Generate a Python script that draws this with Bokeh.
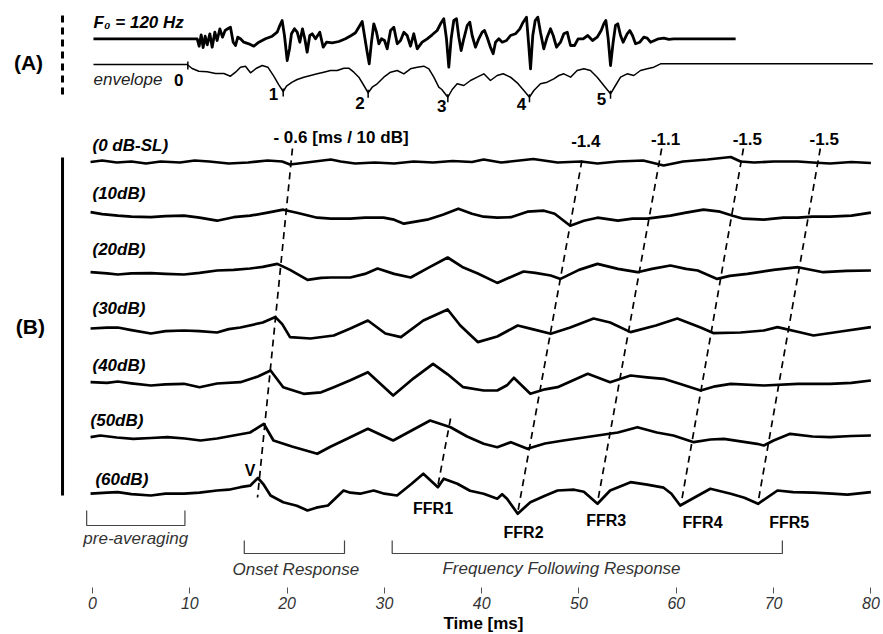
from bokeh.plotting import figure
from bokeh.models import Range1d, FixedTicker, Title, ColumnDataSource
from bokeh.core.properties import value
from bokeh.embed import file_html
from bokeh.resources import INLINE

FONT = "Liberation Sans"

# ---------------- data ----------------
TICKS = [0, 10, 20, 30, 40, 50, 60, 70, 80]
LEVEL_LABELS = ["(0 dB-SL)", "(10dB)", "(20dB)", "(30dB)", "(40dB)", "(50dB)", "(60dB)"]

# stimulus (F0 = 120 Hz) waveform: (time ms, amplitude a.u.)
STIM_F0 = [(0.1, 0), (10.76, 0), (10.96, -7.4), (11.17, 4), (11.37, -8.7), (11.58, 2.6), (11.79, -6),
           (12.06, 5), (12.3, -8.4), (12.57, 6.6), (12.81, -1.7), (13.09, 10), (13.36, 1.6), (13.63, 8.3),
           (13.9, 10), (14.18, 11.6), (14.46, -3.4), (14.7, -6.7), (14.93, 1.6), (15.21, 0), (15.55, -3.4),
           (16.07, -5), (16.58, -7.4), (17.1, -3.4), (17.78, 0), (18.47, 2.6), (18.98, 6.6), (19.25, 13.3),
           (19.49, 18.3), (19.73, 3.3), (20.01, -21.7), (20.25, -10), (20.45, 5), (20.76, 10), (21.04, 6.6),
           (21.31, -3.4), (21.58, 10), (21.82, 0), (22.06, -13.4), (22.33, 3.3), (22.58, 5), (22.92, 0),
           (23.36, 6.6), (23.71, -8.4), (24.05, -3.4), (24.63, -4), (25.32, -2.7), (26.0, 0), (26.59, 3.3),
           (27.03, 6), (27.37, 11.6), (27.72, 17.3), (27.95, 3.3), (28.23, -13.4), (28.44, -25), (28.67, -3.4),
           (28.91, 15), (29.19, 6.6), (29.43, -5), (29.7, 0), (30.01, -1.7), (30.29, -10), (30.63, 8.3),
           (30.97, 11.6), (31.32, -5), (31.66, -1.7), (32.0, 6.6), (32.34, 3.3), (32.68, -7.4), (33.02, 5),
           (33.37, -10), (33.88, -3.4), (34.4, 0), (34.91, 4), (35.42, 8.3), (35.77, 15), (36.1, 20),
           (36.38, 0), (36.62, -28.4), (36.86, 0), (37.13, 18.3), (37.41, 20), (37.65, 1.6), (37.89, -11.7),
           (38.16, 0), (38.51, 13.3), (38.78, 16.6), (39.02, 3.3), (39.36, -8.4), (39.7, 0), (40.05, 6.6),
           (40.29, 8.3), (40.56, 1.6), (40.9, -8.4), (41.18, -15), (41.42, -3.4), (41.76, 0), (42.11, -3.4),
           (42.55, -1.7), (42.96, 3.3), (43.47, 5), (43.92, 10), (44.26, 16.6), (44.6, 21.6), (44.81, -3.4),
           (45.02, -30), (45.25, 3.3), (45.5, 18.3), (45.77, 21.6), (46.04, 6.6), (46.38, -10), (46.73, 1.6),
           (47.07, 10), (47.35, 3.3), (47.69, -8.4), (48.1, -3.4), (48.44, 5), (48.79, 6.6), (49.13, -6.7),
           (49.54, -6.7), (49.91, 0), (50.43, 0), (50.9, 3.3), (51.39, -1.7), (51.87, 1.6), (52.28, 8.3),
           (52.55, 15), (52.76, 18.3), (53.0, 0), (53.24, -26.7), (53.51, -3.4), (53.75, 13.3), (53.99, 15),
           (54.27, 3.3), (54.54, -3.4), (54.95, 5), (55.22, 8.3), (55.5, 3.3), (55.81, -5), (56.25, -3.4),
           (56.66, 1.6), (57.01, 0.6), (57.35, -3.4), (57.76, -1.7), (58.17, 0), (58.72, 0.6), (59.23, -0.6),
           (59.74, 0), (66.1, 0)]

# stimulus envelope
STIM_ENV = [(0.1, 0), (9.73, 0), (10.24, -4), (10.93, -6.7), (11.79, -7.3), (12.64, -9), (13.5, -9),
            (14.18, -11.7), (14.7, -7.7), (15.21, -2.7), (15.72, -1.7), (16.24, -8.3), (16.86, -3.7),
            (17.44, -1), (18.02, -2.7), (18.63, -11.7), (19.15, -20.3), (19.6, -27), (19.94, -21.7),
            (20.52, -17.7), (21.04, -15), (21.72, -12.7), (22.41, -11), (23.09, -9.3), (23.77, -7.7),
            (24.46, -6), (25.15, -6), (25.83, -3.7), (26.34, -3.7), (26.86, -7.7), (27.37, -12.7),
            (27.89, -21), (28.33, -28.3), (28.75, -22.7), (29.26, -19.3), (29.94, -12.7), (30.63, -7.7),
            (31.32, -6), (32.0, -9.3), (32.68, -4.3), (33.37, -2.7), (34.05, -1.7), (34.57, -4.3),
            (35.08, -12.7), (35.59, -22.7), (35.9, -25), (36.52, -32.7), (36.97, -25), (37.48, -19.3),
            (38.16, -21), (38.85, -16), (39.54, -12.7), (40.22, -9.3), (40.9, -16), (41.59, -11),
            (42.21, -9.3), (42.96, -12.7), (43.65, -18.3), (44.33, -26), (44.91, -32.7), (45.36, -26),
            (46.04, -19.3), (46.73, -17.7), (47.41, -14.3), (47.93, -11), (48.44, -9.3), (49.13, -12.7),
            (49.81, -6), (50.5, -4.3), (51.18, -6), (51.87, -12.7), (52.55, -21), (53.24, -29.3),
            (53.75, -21), (54.27, -12.7), (54.95, -9.3), (55.63, -11), (56.32, -6), (57.01, -4.3),
            (57.69, -2.7), (58.38, 0.7), (80.2, 0.7)]

ENV_MARK_NAMES = ["0", "1", "2", "3", "4", "5"]
ENV_MARK_T = [9.8, 19.6, 28.33, 36.52, 44.91, 53.24]
ENV_MARK_A = [0, -27, -28.3, -32.7, -32.7, -29.3]
ENV_LABEL_T = [8.85, 18.6, 27.5, 35.9, 44.1, 52.3]

# averaged responses, one per level (time ms, amplitude a.u.)
TRACE_0DB = [(-0.2, 0.5), (1.0, 2), (2.5, 0), (4, 1), (5.5, -1), (7, 1), (9, 0), (10.5, 2), (12, 1),
             (14, -1), (16, 0), (18, 2), (19.5, 1), (20.3, -2), (22, 0), (24.5, 3), (25.5, 1), (27, -1),
             (29, 0), (31, -1), (33, 1), (35, 0), (37, 1.5), (39, 0.5), (40.2, 3), (42, 0), (45.3, 3.5),
             (47.8, 0), (50.2, 1), (51.9, -1), (54, 1), (56.6, 2), (58.7, -3), (60.7, 1), (63.2, 3),
             (65.6, 5.5), (66.6, 1), (68, 0), (70, 1), (72.5, 1), (74, 0), (75.8, -1), (78, 0.5), (80, -0.5)]
TRACE_10DB = [(-0.2, 5.5), (1, 3.5), (2.6, 2), (4, 1), (6, 0.5), (7.5, 1.5), (9.4, 2), (11, 0), (12.8, -3),
              (14.5, 0.5), (16.2, 2), (18, 5), (19.6, 8), (21, 5), (23.1, 0), (24.5, -1), (26.5, -1),
              (28, 0), (29.9, 0), (31, -2), (32, -6), (33.2, -4), (34.4, -2), (36, 3), (37.6, 9), (39, 4),
              (40.2, 1), (41.6, 0), (43, 0.5), (44.7, 6), (46.4, 7), (47.5, 4), (49.1, -8), (50.5, -3),
              (51.9, 0), (54, -3), (55.5, -1), (57, -1), (59.4, 2), (61, 5), (62.8, 8), (64.5, 6),
              (65.8, 2), (66.9, -1), (69, -2), (71, 0), (72.5, 0), (74, 1), (75.8, 1), (78, 2), (80, 5)]
TRACE_20DB = [(-0.2, 0.7), (1.5, -0.5), (2.6, -1.6), (4, -0.5), (6, -0.3), (7.5, -1), (9.4, -1.6),
              (11, 0), (12.8, 2.4), (14.5, 3), (16.2, 4.4), (17.5, 6), (19.0, 9), (20.3, 3), (22.1, -7),
              (23.5, -5), (24.5, -4.6), (26.5, -4.6), (28, -1), (29.3, 4.4), (31, -1), (32.7, -4.6),
              (34.5, 5), (36.5, 15.4), (38, 6), (39.6, -0.6), (41.6, -10), (43, -4), (44.3, 1.4),
              (45.5, 0), (47.1, -2.6), (48.1, -6), (50, 3), (51.9, 9), (54, 4), (56, 0.7), (57.5, 4),
              (59.4, 7.4), (61, 4), (62.2, 2.4), (64.2, -6), (65.5, -3), (67.3, -1), (70, 3), (72.5, 5.7),
              (75.1, 0.7), (77.5, 2), (80, 2.4)]
TRACE_30DB = [(-0.2, -0.4), (1.5, 0.5), (2.6, 0.6), (4, -2), (6, -5.4), (7.5, -3), (9.4, -2.4),
              (11, -3), (12.8, -4.4), (14, -1), (15.2, 0.6), (17.5, 5.6), (18.8, 11), (19.5, 4),
              (20.3, -9), (22.4, -10.4), (24.8, -7.4), (26.5, -0.4), (28.3, 7.6), (30.1, -5.4), (31.7, -9),
              (34, 7.6), (36.5, 18.6), (37.8, 2.6), (39.6, -14), (41.6, -8.4), (43.7, 2.6), (45.2, -1),
              (47.1, -5.7), (49.1, 0.6), (51.5, 9.6), (53.2, 5.6), (55.3, -4), (57.9, 2.6), (60.1, 9.6),
              (62.5, 0.6), (63.8, -5), (66.6, -4.4), (69, -2.4), (70.4, 1), (72.8, -4.4), (74.1, -7.4),
              (76.9, -3.4), (80, 1)]
TRACE_40DB = [(-0.2, 1.1), (1.5, 0.5), (2.6, 1.8), (4, 0), (6, -2.2), (7.5, -1), (9.4, -0.5),
              (11, -3.9), (12.8, -0.2), (15.2, 1.1), (17, 6.8), (18.3, 12.8), (19.6, -3.9), (21.7, -10.5),
              (23.5, -9), (24.8, -3.9), (26.5, 3), (28.3, 11.1), (30.9, -12.2), (33, 5), (35, 19.5),
              (36.5, 9), (38.1, -3.9), (40.2, -7.2), (41.6, -7.2), (42.6, -2), (43.3, 5.5), (45, -10.5),
              (46.5, -6), (47.8, -3.9), (50.9, 9.5), (53.2, 1.1), (55.3, 7.8), (57, 6), (58.7, 4.5),
              (60.5, -1), (62.5, -7.2), (64, -3), (65.6, -0.5), (69, -2.2), (72.5, -0.5), (75.8, -0.5),
              (78, 0.5), (80, 2.8)]
TRACE_50DB = [(-0.2, 1.3), (0.8, 3), (2.5, 1), (4.2, -0.3), (6, 0.5), (7.7, 1.3), (9.5, 0), (11.1, -2),
              (12.8, 0), (14.5, 3), (16.2, 6), (17.6, 14.7), (18.6, -2), (20.5, -8), (23.1, -15.3),
              (24.5, -8), (25.8, -2), (28.3, 9.7), (30.9, -2), (32.8, 8), (34.7, 18), (36.8, 11.3),
              (38.5, 2), (40.2, -5.3), (41.6, -8.7), (43, -3.7), (44.7, -10.3), (46.5, -5), (48.4, -2),
              (51.9, 3), (54, 6), (56, 11.3), (58, 6), (59.7, 3), (61.8, -3.7), (63.5, -1), (64.9, -0.3),
              (68.3, -5.3), (69, -7), (70, -2), (71.7, 4.7), (74, 2), (75.8, 1.3), (78, 2.5), (80, 3)]
TRACE_60DB = [(-0.2, 0), (1.5, 1), (2.6, 1.5), (4, -0.5), (6, -1.8), (7.5, 0), (9.4, 0), (11, 1),
              (12.8, 3.2), (14, 4), (15.2, 6.5), (16.2, 8), (17.0, 15.7), (17.6, 9), (18.3, -1.8),
              (19.6, -8.5), (21, -12), (22.1, -16.8), (23, -14), (24.2, -11.8), (25.8, 3.2), (26.5, 1),
              (27.5, 0), (28.9, 3.2), (30, 0), (31.3, -1.8), (32.8, 10), (34, 20), (35.5, 6.5), (36.1, 15),
              (37.5, 10), (38.8, 3), (40.2, 0), (41.6, -5), (42.1, -0.5), (42.6, -5), (43.7, -20),
              (45, -8.5), (46.5, -2), (47.8, 3.2), (49.5, 4), (50.5, 2), (51.9, -10.1), (53.2, 3.2),
              (55.3, 11.5), (57, 9), (58.7, 6), (59.5, 0), (60.4, -11.8), (62.2, -2), (63.5, 4.9),
              (65.6, -0.1), (67, -4), (68.4, -10.1), (70.4, 3.2), (72, 1.5), (74.1, 1), (76, 0),
              (77.6, -1), (80, 1.5)]
TRACES = [TRACE_0DB, TRACE_10DB, TRACE_20DB, TRACE_30DB, TRACE_40DB, TRACE_50DB, TRACE_60DB]

# latency-shift lines: latency at the top (0 dB) and bottom (60 dB) end
SHIFT_LABELS = ["-1.4", "-1.1", "-1.5", "-1.5"]
ONSET_T = (20.55, 16.96)
FFR_NAMES = ["FFR1", "FFR2", "FFR3", "FFR4", "FFR5"]
FFR_T_TOP = [36.8, 50.3, 58.5, 66.9, 74.8]
FFR_T_BOT = [35.5, 43.7, 51.9, 60.5, 68.4]

# response windows
WIN_NAMES = ["pre-averaging", "Onset Response", "Frequency Following Response"]
WIN_START = [-0.6, 15.6, 30.8]
WIN_END = [9.5, 25.9, 70.9]

# ---------------- layout (reference pixel rows, y grows downward) ----------------
def Y(px):
    return -px

ROW_BASE = [162 + 55.2 * i for i in range(7)]
LABEL_ROW = [145, 193, 249, 308, 365, 420, 479]
LABEL_T = [0, 0, 0, 0, 0, -0.2, 0.3]
F0_BASE = 38.3
ENV_BASE = 64.0
BAR_T = -3.08

p = figure(width=883, height=634, x_range=Range1d(-9.455, 81.295), y_range=Range1d(-587, 0),
           output_backend="svg", toolbar_location=None, min_border=0, min_border_bottom=47,
           y_axis_location=None, x_axis_location="below")
p.outline_line_color = None
p.xgrid.visible = False
p.ygrid.visible = False
p.background_fill_color = "white"
p.border_fill_color = "white"

ax = p.xaxis[0]
ax.ticker = FixedTicker(ticks=TICKS, minor_ticks=[])
ax.axis_line_color = None
ax.major_tick_in = 0
ax.major_tick_out = 6
ax.major_tick_line_color = "#555555"
ax.major_tick_line_width = 1
ax.minor_tick_line_color = None
ax.major_label_text_font = FONT
ax.major_label_text_font_style = "italic"
ax.major_label_text_font_size = "16px"
ax.major_label_text_color = "#333333"
ax.major_label_standoff = 3

tt = Title(text="Time [ms]", align="left", offset=443, text_font=FONT, text_font_size="17px",
           text_font_style="bold", text_color="black")
try:
    tt.standoff = 0
except Exception:
    pass
p.add_layout(tt, "below")

def txt(xs, ys, texts, size="17px", style="bold", align="left", color="black"):
    src = ColumnDataSource(dict(x=xs, y=ys, t=texts))
    p.text(x="x", y="y", text="t", source=src, text_font=value(FONT), text_font_size=value(size),
           text_font_style=style, text_align=align, text_baseline="middle", text_color=color)

# ---- panel A: stimulus ----
p.line([q[0] for q in STIM_F0], [Y(F0_BASE) + q[1] for q in STIM_F0], line_width=2.8, color="black",
       line_join="round")
p.line([q[0] for q in STIM_ENV], [Y(ENV_BASE) + q[1] for q in STIM_ENV], line_width=1.5, color="black",
       line_join="round")
p.segment(x0=ENV_MARK_T, x1=ENV_MARK_T,
          y0=[Y(ENV_BASE) + a + 3 for a in ENV_MARK_A], y1=[Y(ENV_BASE) + a - 5 for a in ENV_MARK_A],
          line_width=1.5, color="black")
txt(ENV_LABEL_T, [Y(79), Y(93), Y(102), Y(105), Y(103), Y(98)], ENV_MARK_NAMES, align="center")
txt([0.1], [Y(22)], ["F\u2080 = 120 Hz"], style="bold italic")
txt([0.1], [Y(79)], ["envelope"], style="italic", color="#222222")
p.segment(x0=[BAR_T], x1=[BAR_T], y0=[Y(15)], y1=[Y(97)], line_width=3, color="black", line_dash="7 5")
txt([BAR_T - 3.5], [Y(62)], ["(A)"], size="21px", align="center")

# ---- panel B: responses ----
for i, tr in enumerate(TRACES):
    p.line([q[0] for q in tr], [Y(ROW_BASE[i]) + q[1] for q in tr], line_width=2.7, color="black",
           line_join="round")
txt(LABEL_T, [Y(v) for v in LABEL_ROW], LEVEL_LABELS, style="bold italic")
p.segment(x0=[BAR_T], x1=[BAR_T], y0=[Y(157)], y1=[Y(495)], line_width=3, color="black")
txt([BAR_T - 3.3], [Y(326)], ["(B)"], size="21px", align="center")

# latency shift lines
dash = "7 5"
p.segment(x0=[ONSET_T[0]], x1=[ONSET_T[1]], y0=[Y(148)], y1=[Y(497)], line_width=1.7, color="black",
          line_dash=dash)
ffr_top_y = [Y(418), Y(160), Y(148), Y(148), Y(148)]
ffr_bot_y = [Y(485), Y(512), Y(502), Y(503), Y(502)]
p.segment(x0=FFR_T_TOP, x1=FFR_T_BOT, y0=ffr_top_y, y1=ffr_bot_y, line_width=1.7, color="black",
          line_dash=dash)
txt([ONSET_T[0] - 1.95], [Y(137)], ["- 0.6 [ms / 10 dB]"])
txt([t + 0.4 for t in FFR_T_TOP[1:]], [Y(140), Y(138), Y(138), Y(138)], SHIFT_LABELS, align="center")

# wave labels on the 60 dB trace
txt([16.2], [Y(470)], ["V"], size="16px", align="center")
txt([35.0, 44.3, 52.8, 62.7, 71.6], [Y(508), Y(532), Y(520), Y(522), Y(522)], FFR_NAMES, size="16px",
    align="center")

# response windows (brackets)
win_top = [Y(510), Y(540), Y(540)]
win_bot = [Y(525), Y(553), Y(553)]
xs, ys = [], []
for s, e, a, b in zip(WIN_START, WIN_END, win_top, win_bot):
    xs.append([s, s, e, e])
    ys.append([a, b, b, a])
p.multi_line(xs, ys, line_width=1.2, color="#444444")
txt([(WIN_START[0] + WIN_END[0]) / 2, 20.9, 48.2], [Y(538), Y(569), Y(568)], WIN_NAMES, style="italic",
    align="center", color="#333333")

open("out.html", "w").write(file_html(p, INLINE))
